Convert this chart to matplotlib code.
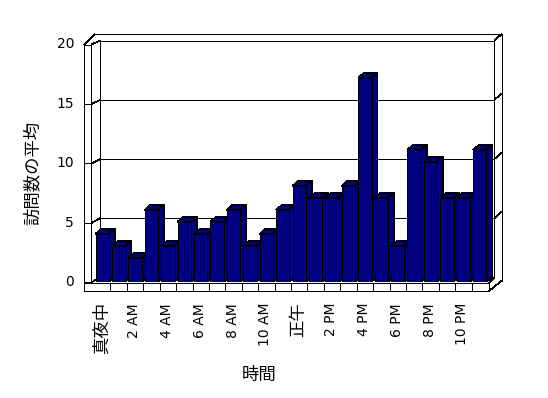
import numpy as np
import matplotlib.pyplot as plt
from matplotlib.patches import Polygon

# データ
hours = np.arange(24)
visits = [4, 3, 2, 6, 3, 5, 4, 5, 6, 3, 4, 6, 8, 7, 7, 8, 17, 7, 3, 11, 10, 7, 7, 11]
tick_labels = ['真夜中', '2 AM', '4 AM', '6 AM', '8 AM', '10 AM',
               '正午', '2 PM', '4 PM', '6 PM', '8 PM', '10 PM']
y_ticks = [0, 5, 10, 15, 20]

W, H = 548, 398
navy = '#000080'
lw = 0.5
jp = ['Noto Sans CJK JP', 'DejaVu Sans']
lat = ['DejaVu Sans', 'Noto Sans CJK JP']

fig = plt.figure(figsize=(W / 100, H / 100), dpi=100)

# 枠 (ピクセル座標)
fr = fig.add_axes([0, 0, 1, 1])
fr.set_xlim(0, W)
fr.set_ylim(H, 0)
fr.axis('off')

def line(xs, ys):
    fr.plot(xs, ys, color='black', lw=lw, solid_capstyle='butt', antialiased=False)

# 壁と床の位置
xl0, xl1 = 84, 91.3        # 左の壁 (前面)
xb0, xb1 = 100, 494.3      # 奥の壁
xr = 501.7
y_top_out = 34
x_cat0, cat_w = 94, 394 / 24
y_fl0, y_fl1 = 282.7, 291
x_fl1 = x_cat0 + 24 * cat_w + 1

def yf(v):
    return 282 - v * 11.875

def yb(v):
    return 277.5 - v * 11.84

# 奥の壁
line([xb0, xb1, xb1, xb0, xb0], [yb(20), yb(20), yb(0), yb(0), yb(20)])
line([95, xr], [y_top_out, y_top_out])
line([xb1, xr], [yb(20), y_top_out])
line([xr, xr], [y_top_out, 280.7])
for v in y_ticks[1:-1]:
    line([xb0, xb1], [yb(v), yb(v)])
    line([xb1, xr], [yb(v), yb(v) - 6.5])

# 左の壁
line([xl0, xl0], [yf(20), y_fl1])
line([xl1, xl1], [yf(20), y_fl0])
line([xl0, xl1], [yf(20), yf(20)])
line([xl1, xb0], [yf(20), yb(20)])
line([xl0, 95], [yf(20), y_top_out])
for v in y_ticks[:-1]:
    line([xl0, 92], [yf(v), yf(v)])
    line([92, xb0], [yf(v), yb(v)])
    fr.text(74, yf(v), str(v), ha='right', va='center', fontsize=10, family=lat)
fr.text(74, yf(20), '20', ha='right', va='center', fontsize=10, family=lat)

# 床
line([xl0, x_fl1], [y_fl0, y_fl0])
line([xl0, x_fl1], [y_fl1, y_fl1])
line([x_fl1, x_fl1], [y_fl0, y_fl1])
line([x_fl1, xr], [y_fl1, 280.7])
line([x_fl1, xb1], [y_fl0, yb(0)])
for k in range(1, 24):
    xk = x_cat0 + k * cat_w
    line([xk, xk], [y_fl0, y_fl1])

# 軸ラベル
for j, lab in enumerate(tick_labels):
    xc = x_cat0 + (2 * j + 0.5) * cat_w - 1
    if lab.isascii():
        fr.text(xc, 303, lab, rotation=90, ha='center', va='top', fontsize=10, family=lat)
    else:
        fr.text(xc, 302, lab, rotation=90, ha='center', va='top', fontsize=12.5, family=jp)
fr.text(259, 375, '時間', ha='center', va='center', fontsize=12.5, family=jp)
fr.text(33, 173, '訪問数の平均', rotation=90, ha='center', va='center', fontsize=12.5, family=jp)

# 棒グラフ
ax = fig.add_axes([x_cat0 / W, 1 - 281.7 / H, 394 / W, 240 / H])
ax.set_xlim(-0.5, 23.5)
ax.set_ylim(0, 20)
ax.axis('off')
ax.patch.set_alpha(0)

bw = 0.81
ddx = 6 / cat_w
ddy = 5 / 12
bars = ax.bar(hours, visits, width=bw, color=navy, edgecolor='black', lw=lw,
              antialiased=False)
for i, (rect, v) in enumerate(zip(bars, visits)):
    x0 = hours[i] - bw / 2
    x1 = hours[i] + bw / 2
    side = Polygon([(x1, 0), (x1, v), (x1 + ddx, v + ddy), (x1 + ddx, ddy)],
                   closed=True, facecolor=navy, edgecolor='black', lw=lw,
                   zorder=3 + 2 * i, clip_on=False, antialiased=False)
    top = Polygon([(x0, v), (x1, v), (x1 + ddx, v + ddy), (x0 + ddx, v + ddy)],
                  closed=True, facecolor=navy, edgecolor='black', lw=lw,
                  zorder=3 + 2 * i, clip_on=False, antialiased=False)
    ax.add_patch(side)
    ax.add_patch(top)
    rect.set_zorder(4 + 2 * i)

fig.savefig('out.png', dpi=100)
